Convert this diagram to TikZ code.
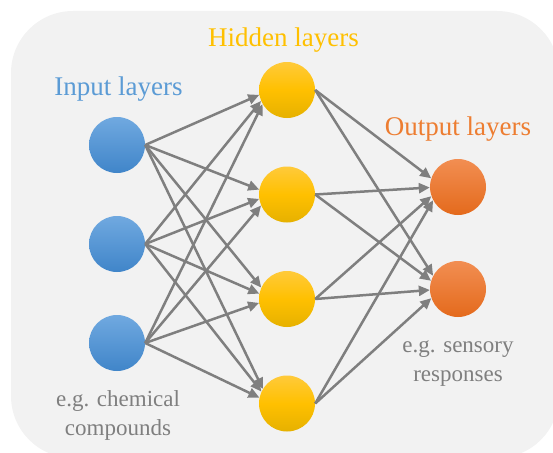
\documentclass[tikz,border=0pt]{standalone}
\usepackage{fontspec}
\setmainfont{Liberation Serif}
\usetikzlibrary{arrows.meta,positioning,calc}
\definecolor{panel}{HTML}{F2F2F2}
\definecolor{inblue}{HTML}{5B9BD5}
\definecolor{hidgold}{HTML}{FFC000}
\definecolor{outorange}{HTML}{ED7D31}
\definecolor{wiregray}{HTML}{7F7F7F}
\definecolor{notegray}{HTML}{7F7F7F}
\tikzstyle{input} = [circle, inner sep=0pt, minimum size=56pt,
top color={rgb,255:red,112;green,169;blue,224}, bottom color={rgb,255:red,64;green,133;blue,201}]
\tikzstyle{hidden} = [circle, inner sep=0pt, minimum size=56pt,
top color={rgb,255:red,255;green,202;blue,58}, bottom color={rgb,255:red,230;green,177;blue,0},
middle color=hidgold]
\tikzstyle{output} = [circle, inner sep=0pt, minimum size=56pt,
top color={rgb,255:red,242;green,142;blue,82}, bottom color={rgb,255:red,228;green,106;blue,28}]
\tikzstyle{title} = [inner sep=0pt, anchor=base, font=\fontsize{27}{32}\selectfont]
\tikzstyle{note} = [inner sep=0pt, align=center, text=notegray,
font=\fontsize{23}{29}\selectfont]
\tikzstyle{wire} = [draw, wiregray, line width=2.5pt, -{Triangle[length=11pt,width=10pt]}]
% arrow from the east point of #1 to the facing side of #2
\newcommand{\synapse}[2]{%
\path [wire] let \p1 = (#1.east), \p2 = (#2.center),
\n1 = {180+0.5*atan2(\y2-\y1,\x2-\x1)} in (\p1) -- (#2.\n1);}

\begin{document}
\begin{tikzpicture}[x=1pt, y=-1pt]
			\useasboundingbox (0,0) rectangle (553,452);
			\fill [panel, rounded corners=62pt] (11,11) rectangle (559,458);
			% Place nodes
			\node [input] (in1) at (117,145) {};
			\node [input, below of=in1, node distance=99pt] (in2) {};
			\node [input, below of=in2, node distance=99pt] (in3) {};
			\node [hidden] (hid1) at (287,90) {};
			\node [hidden, below of=hid1, node distance=104.5pt] (hid2) {};
			\node [hidden, below of=hid2, node distance=104.5pt] (hid3) {};
			\node [hidden, below of=hid3, node distance=104.5pt] (hid4) {};
			\node [output] (out1) at (458,187) {};
			\node [output, below of=out1, node distance=102pt] (out2) {};
			% Titles and notes
			\node [title, text=inblue] (in-title) at (118.5,95) {Input layers};
			\node [title, text=hidgold] (hid-title) at (283.5,47) {Hidden layers};
			\node [title, text=outorange] (out-title) at (458,135) {Output layers};
			\node [note] (in-note) at (118,415) {e.g. chemical\\compounds};
			\node [note] (out-note) at (458,364) {e.g. sensory\\responses};
			% Input to hidden
			\synapse{in1}{hid1} \synapse{in1}{hid2} \synapse{in1}{hid3} \synapse{in1}{hid4}
			\synapse{in2}{hid1} \synapse{in2}{hid2} \synapse{in2}{hid3} \synapse{in2}{hid4}
			\synapse{in3}{hid1} \synapse{in3}{hid2} \synapse{in3}{hid3} \synapse{in3}{hid4}
			% Hidden to output
			\synapse{hid1}{out1} \synapse{hid1}{out2}
			\synapse{hid2}{out1} \synapse{hid2}{out2}
			\synapse{hid3}{out1} \synapse{hid3}{out2}
			\synapse{hid4}{out1} \synapse{hid4}{out2}
		\end{tikzpicture}
\end{document}
